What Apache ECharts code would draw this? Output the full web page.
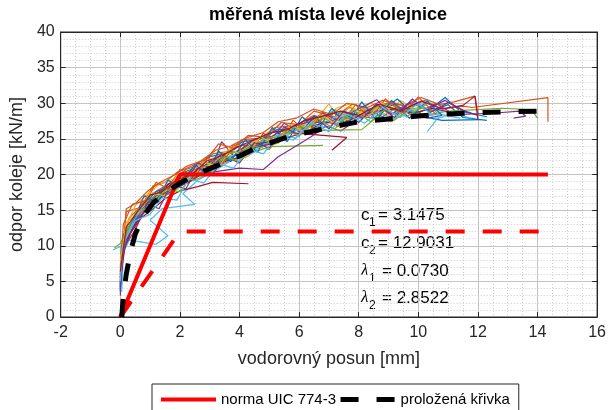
<!DOCTYPE html>
<html><head><meta charset="utf-8">
<script src="https://cdn.jsdelivr.net/npm/echarts@6/dist/echarts.min.js"></script>
<style>html,body{margin:0;padding:0;background:#fff}#c{width:609px;height:410px}</style>
</head><body><div id="c"></div>
<script>
// ---- data ----
const uicX = [0, 2, 14.35];
const uicY = [0, 20, 20];
const uicLowX = [0, 2, 14.35];
const uicLowY = [0, 12, 12];
const fitX = [0.05,0.1,0.2,0.35,0.5,0.75,1.1,1.5,2,2.5,3,3.5,4,4.5,5,5.5,6,6.5,7,7.5,8,8.5,9,9.5,10,11,12,13,14.35];
const fitY = [0,3,6,9.3,11.6,14,16,17.4,18.8,19.9,20.8,21.7,22.6,23.6,24.4,25.1,25.7,26.1,26.6,27,27.4,27.6,27.8,28,28.2,28.5,28.7,28.8,28.9];
const fitParams = [['c','1','3.1475'],['c','2','12.9031'],['\u03BB','1','0.0730'],['\u03BB','2','2.8522']];

const m01 = [[0,3.5],[0.02,8],[0.2,10.5],[0.45,12.8],[0.7,14.9],[1.0,15.6],[1.3,17.2],[1.7,18.1],[2.1,19.6],[2.6,20.3],[3.0,21.9],[3.5,22.4],[4.0,24.1],[4.6,24.0],[5.1,25.9],[5.7,26.2],[6.2,27.6],[6.9,27.1],[7.4,28.8],[8.0,28.2],[8.6,29.6],[9.2,28.4],[9.8,30.2],[10.4,28.9],[11.0,29.8],[11.5,28.0],[12.3,27.6]];
const m02 = [[0,5.2],[0.05,10.2],[0.3,13.9],[0.6,15.2],[0.9,16.8],[1.3,17.9],[1.8,19.1],[2.2,20.7],[2.7,21.4],[3.1,22.9],[3.6,23.2],[4.1,24.9],[4.7,25.1],[5.2,26.6],[5.9,26.9],[6.5,28.3],[7.0,27.6],[7.7,29.4],[8.3,28.6],[9.0,30.1],[9.6,29.0],[10.2,30.4],[10.8,29.2],[11.5,29.6],[11.8,29.4],[14.35,30.8],[14.35,27.4]];
const m03 = [[0,6.1],[0.1,11.0],[0.35,12.6],[0.6,14.1],[1.0,16.3],[1.4,17.1],[1.9,18.8],[2.4,19.4],[2.9,21.0],[3.4,21.8],[3.9,23.3],[4.5,23.5],[5.0,25.2],[5.6,25.6],[6.1,27.1],[6.6,27.9],[7.0,29.9],[7.4,27.4],[8.0,28.6],[8.4,30.1],[8.9,28.4],[9.4,30.4],[9.9,29.1],[10.5,29.5]];
const m04 = [[0,3.0],[0.05,7.9],[0.3,11.9],[0.6,13.6],[0.9,15.6],[1.3,16.4],[1.6,18.7],[2.1,19.3],[2.6,20.6],[3.1,21.2],[3.4,24.6],[3.8,22.6],[4.4,24.0],[5.0,24.6],[5.5,27.2],[6.0,26.0],[6.6,27.3],[7.1,28.7],[7.7,27.6],[8.2,29.4],[8.8,28.1],[9.4,29.8],[10.0,28.6],[10.6,30.0],[11.2,28.4],[12.5,28.6],[13.4,28.9],[13.6,28.2],[13.2,27.9]];
const m05 = [[-0.2,9.7],[0,10.3],[0.25,12.4],[0.55,13.8],[0.9,14.9],[1.3,16.6],[1.7,17.4],[2.2,18.8],[2.8,19.7],[3.3,21.3],[3.9,22.2],[4.4,23.0],[5.0,23.9],[6.8,24.1]];
const m06 = [[-0.25,9.4],[0,9.9],[0.05,3.5],[0.1,9.0],[0.3,10.8],[1.2,10.2],[1.6,11.4],[1.0,13.6],[1.4,15.2],[2.5,15.8],[2.1,17.3],[2.6,19.2],[3.2,20.6],[3.7,21.9],[4.3,22.6],[4.8,24.2],[5.4,24.8],[5.9,26.3],[6.5,26.0],[7.0,27.7],[7.6,26.9],[8.3,28.7],[8.9,27.9],[9.5,29.3],[10.1,28.1],[10.7,28.5],[11.4,27.9]];
const m07 = [[0,4.2],[0.08,9.0],[0.35,11.8],[0.7,13.9],[1.1,15.2],[1.5,16.6],[2.0,17.7],[2.6,18.3],[3.1,18.9],[4.3,18.7]];
const m08 = [[0,4.8],[0.1,9.5],[0.4,13.2],[0.8,15.9],[1.2,17.6],[1.6,18.2],[2.0,20.1],[2.5,20.9],[3.0,22.5],[3.6,23.0],[4.1,24.6],[4.7,25.0],[5.3,26.4],[5.8,26.1],[6.4,27.9],[7.0,28.4],[7.5,27.3],[8.1,29.1],[8.7,28.8],[9.3,30.6],[9.8,28.6],[10.4,29.2],[10.9,30.8],[11.4,28.9],[12.3,28.1]];
const m09 = [[0,7.2],[0.15,12.1],[0.2,14.8],[0.7,15.4],[1.1,18.4],[1.5,18.9],[1.9,20.3],[2.4,21.2],[2.9,22.2],[3.3,24.3],[3.8,23.7],[4.3,25.5],[4.9,25.2],[5.4,27.3],[6.0,27.0],[6.5,28.9],[7.2,28.1],[7.8,29.9],[8.5,29.0],[9.1,30.2],[9.6,29.5]];
const m10 = [[0,8.1],[0.2,12.8],[0.5,15.6],[0.9,17.2],[1.3,18.6],[1.8,19.4],[2.3,20.4],[2.8,21.8],[3.3,22.6],[3.8,23.9],[4.4,24.4],[5.0,26.0],[5.6,25.6],[6.2,27.2],[6.8,27.9],[7.3,29.4],[7.8,30.0],[8.2,28.8],[8.7,29.6],[9.2,27.6],[9.6,28.8]];
const m11 = [[0,5.5],[0.1,10.8],[0.4,13.4],[0.8,15.1],[1.2,16.2],[1.6,17.8],[2.1,18.6],[2.5,20.1],[3.2,20.4],[4.0,20.9],[4.8,20.7],[5.3,22.5],[5.9,24.0],[6.4,25.3],[6.9,26.8],[7.4,26.1],[8.0,27.9],[8.6,28.6],[9.2,29.9],[9.7,28.5],[10.3,27.9],[10.8,28.3]];
const m12 = [[0,6.6],[0.2,11.6],[0.5,13.7],[0.9,16.0],[1.3,17.3],[1.8,18.4],[2.3,19.8],[2.9,20.6],[3.4,22.3],[4.0,22.8],[4.6,24.5],[5.2,24.9],[5.8,26.4],[6.3,26.7],[6.8,26.2],[8.1,26.3],[8.6,28.0],[9.1,27.4],[9.7,29.1],[10.2,28.3],[11.0,28.9],[12.8,29.3],[13.8,29.1],[14.0,27.9]];
const m13 = [[0,5.9],[0.1,10.4],[0.4,12.9],[0.8,14.6],[1.2,16.9],[1.7,17.6],[2.2,19.0],[2.7,20.2],[3.2,21.1],[3.7,22.6],[4.2,23.1],[4.8,24.7],[5.3,25.6],[5.9,25.1],[6.4,26.9],[7.0,26.6],[7.5,28.4],[8.1,27.8],[8.7,29.7],[9.3,28.8],[9.9,28.9],[10.3,30.5],[10.7,28.2],[10.3,26.0]];
const m14 = [[0,5.0],[0.2,11.3],[0.6,14.3],[1.0,16.5],[1.5,18.2],[1.9,19.6],[2.4,20.5],[2.9,21.4],[3.4,22.8],[3.9,23.2],[4.4,24.2],[5.0,24.6],[5.6,25.9],[6.2,25.7],[7.6,25.2],[7.1,23.4]];
const m15 = [[0,4.0],[0.05,8.4],[0.3,12.2],[0.7,14.4],[1.1,15.9],[1.5,17.1],[2.0,18.4],[2.6,19.8],[3.1,21.6],[3.7,22.3],[4.3,23.8],[4.9,24.3],[5.5,25.7],[6.1,26.4],[6.7,27.1],[7.3,27.8],[7.9,28.3],[8.5,27.9],[9.0,29.4],[9.6,29.0],[10.2,28.1],[10.8,27.6],[12.1,27.7]];
const m16 = [[0,6.8],[0.15,12.5],[0.2,15.2],[0.5,15.9],[0.9,17.6],[1.3,18.8],[1.8,19.9],[2.2,21.1],[2.7,21.9],[3.2,23.4],[3.7,24.0],[4.2,25.1],[4.8,25.9],[5.3,27.4],[5.9,27.9],[6.5,29.2],[7.1,28.4],[7.6,30.0],[8.3,29.4],[8.8,30.4],[9.5,29.6],[10.1,30.8],[10.7,29.8],[11.2,30.2],[11.9,31.0],[12.0,28.6]];
const m17 = [[0,7.5],[0.25,11.9],[0.6,14.2],[1.0,15.7],[1.5,17.6],[2.0,18.6],[2.5,20.6],[3.0,21.3],[3.6,22.9],[4.1,23.4],[4.7,25.1],[5.3,25.4],[5.9,26.9],[6.5,26.5],[7.0,28.1],[7.7,27.7],[8.2,29.3],[8.8,28.9],[9.4,29.7]];
const m18 = [[0,4.6],[0.1,9.9],[0.4,12.9],[0.8,15.4],[1.2,17.0],[1.7,18.4],[2.2,19.2],[2.6,21.6],[3.0,21.0],[3.5,22.7],[4.0,23.4],[4.5,24.9],[5.1,25.4],[5.7,26.8],[6.3,27.3],[6.8,28.6],[7.3,27.6],[7.9,29.0],[8.6,30.5],[9.1,28.5],[9.7,30.0],[10.3,29.2],[10.9,30.4],[11.5,29.0],[12.0,28.3]];
const m19 = [[0,8.9],[0.2,11.4],[0.5,14.6],[0.9,16.2],[1.4,17.7],[1.9,19.0],[2.4,20.2],[3.0,21.5],[3.6,22.9],[4.2,23.5],[4.8,24.9],[5.4,25.4],[6.0,26.7],[6.6,27.4],[7.2,29.1],[7.7,27.9],[8.3,28.6],[8.8,30.1],[9.4,28.7],[10.0,29.4],[10.6,28.9]];
const m20 = [[0,6.3],[0.1,10.1],[0.5,14.0],[0.9,15.7],[1.4,17.2],[1.9,18.1],[2.4,19.6],[2.9,20.4],[3.5,21.9],[4.0,22.4],[4.6,23.9],[5.2,24.8],[5.8,26.2],[6.4,26.2],[7.0,27.5],[7.5,28.9],[8.1,28.2],[8.6,28.8],[9.2,27.8],[9.8,30.0],[10.4,29.1],[11.0,28.8],[11.8,27.9]];
const m21 = [[0,5.6],[0.15,10.6],[0.5,13.0],[0.9,15.3],[1.3,16.9],[1.8,18.1],[2.3,18.9],[2.9,20.5],[3.4,21.7],[4.0,22.4],[4.5,23.8],[5.1,24.3],[5.7,25.3],[6.3,26.0],[6.8,27.4],[7.4,27.0],[8.0,28.2],[8.6,28.9],[9.2,29.2],[9.8,28.6],[10.5,29.3],[11.1,28.7]];
const m22 = [[0,4.4],[0.1,11.5],[0.5,14.1],[0.8,17.0],[1.2,16.1],[1.6,19.2],[2.0,18.3],[2.5,21.4],[2.9,20.1],[3.3,23.3],[3.7,21.8],[4.2,24.9],[4.6,23.1],[5.1,26.6],[5.6,24.6],[6.1,28.1],[6.6,26.1],[7.1,29.3],[7.6,26.9],[8.1,30.2],[8.6,27.6],[9.1,30.4],[9.7,27.9],[10.3,30.3],[10.8,28.3]];
const m23 = [[0,6.0],[0.1,13.0],[0.4,15.8],[0.9,16.4],[1.2,18.9],[1.6,18.0],[2.0,20.7],[2.5,19.6],[2.9,22.4],[3.4,21.2],[3.8,24.2],[4.3,22.8],[4.8,25.8],[5.3,24.4],[5.8,27.6],[6.3,25.8],[6.8,28.8],[7.3,26.7],[7.9,29.8],[8.4,27.9],[8.9,30.6],[9.5,28.6],[10.0,30.9],[10.6,28.4]];
const m24 = [[0,7.8],[0.2,13.3],[0.6,14.6],[1.0,17.5],[1.5,17.0],[1.9,19.9],[2.4,19.3],[2.8,21.8],[3.3,21.0],[3.7,23.6],[4.2,22.3],[4.7,25.3],[5.2,24.2],[5.7,27.0],[6.2,25.9],[6.7,28.4],[7.2,27.2],[7.7,29.6],[8.3,28.1],[8.8,30.0],[9.3,28.0]];
const m25 = [[0,3.8],[0.1,9.7],[0.5,12.2],[0.9,15.9],[1.3,15.2],[1.7,18.6],[2.2,18.0],[2.6,20.9],[3.1,20.0],[3.5,22.6],[4.0,21.6],[4.5,24.5],[5.0,23.7],[5.5,26.7],[6.0,25.4],[6.5,28.2],[7.0,26.4],[7.5,28.9],[8.0,27.3],[8.6,29.9],[9.2,28.0],[9.8,30.6],[10.4,28.7],[11.0,30.1],[11.6,28.8]];
const m26 = [[0,7.0],[0.2,12.0],[0.6,15.2],[1.0,15.0],[1.5,17.9],[2.0,17.6],[2.5,20.3],[3.0,19.9],[3.5,22.5],[4.0,21.8],[4.5,24.0],[5.0,23.5],[5.5,26.1],[6.0,25.5],[6.6,27.9],[7.2,26.4],[7.8,29.1],[8.4,27.4],[9.0,29.6],[9.6,28.1],[10.3,29.9]];
const m27 = [[0,5.0],[0.1,10.3],[0.5,13.5],[1.0,14.4],[1.4,16.7],[1.9,16.4],[2.3,19.4],[2.8,18.8],[3.3,21.5],[3.8,20.9],[4.3,23.6],[4.8,22.9],[5.3,25.6],[5.8,24.8],[6.4,27.3],[7.0,26.0],[7.6,28.5],[8.2,27.2],[8.8,29.4],[9.4,28.0],[10.0,30.0],[10.6,27.8],[11.2,28.6]];
const m28 = [[0,6.4],[0.2,12.6],[0.6,14.9],[1.0,17.1],[1.4,17.6],[1.9,19.3],[2.4,20.0],[2.9,21.9],[3.4,22.6],[3.9,23.8],[4.4,24.7],[5.0,25.8],[5.6,26.3],[6.2,27.6],[6.8,28.2],[7.4,28.9],[8.0,28.3],[8.7,29.9],[9.4,28.9],[10.1,30.3],[10.8,29.2],[11.5,29.7],[11.9,31.0],[12.0,27.7]];
const measured = [m01,m02,m03,m04,m05,m06,m07,m08,m09,m10,m11,m12,m13,m14,m15,m16,m17,m18,m19,m20,m21,m22,m23,m24,m25,m26,m27,m28];
const palette = ['#0072BD','#D95319','#EDB120','#7E2F8E','#77AC30','#4DBEEE','#A2142F'];

// ---- chart ----
const FONT = '"Liberation Sans", Arial, sans-serif';
const TXT = '#262626';
const zip = (a, b) => a.map((v, i) => [v, b[i]]);
const chart = echarts.init(document.getElementById('c'), null, {renderer: 'canvas'});

const series = measured.map((d, i) => ({
  name: 'mereni ' + (i + 1), type: 'line', data: d, symbol: 'none', silent: true, z: 2,
  lineStyle: {width: 1.2, color: palette[i % palette.length]}, itemStyle: {color: palette[i % palette.length]}
}));
series.push({name: 'norma UIC 774-3', type: 'line', data: zip(uicX, uicY), symbol: 'none', z: 3,
  lineStyle: {width: 4, color: '#ff0000'}, itemStyle: {color: '#ff0000'}});
series.push({name: 'norma UIC 774-3 snizena', type: 'line', data: zip(uicLowX, uicLowY), symbol: 'none', z: 3,
  lineStyle: {width: 4, color: '#ff0000', type: [19, 18]}, itemStyle: {color: '#ff0000'}});
series.push({name: 'proložená křivka', type: 'line', data: zip(fitX, fitY), symbol: 'none', z: 4,
  lineStyle: {width: 5, color: '#000000', type: [18, 18]}, itemStyle: {color: '#000000'}});

const axisCommon = {
  axisLine: {show: true, onZero: false, lineStyle: {color: TXT, width: 1}},
  axisTick: {show: true, inside: true, length: 5, lineStyle: {color: TXT}},
};

const graphic = [];
fitParams.forEach((p, i) => {
  const y = [215, 243, 271, 298][i];
  const isL = p[0] !== 'c';
  graphic.push({type: 'text', x: 361, y: y, style: {text: p[0], fill: '#000', verticalAlign: 'middle',
    font: isL ? 'italic 17px "Liberation Serif", serif' : '17px ' + FONT}});
  graphic.push({type: 'text', x: 369, y: y + 8, style: {text: p[1], fill: '#000', verticalAlign: 'middle', font: '12px ' + FONT}});
  graphic.push({type: 'text', x: isL ? 382 : 378, y: y, style: {text: '= ' + p[2], fill: '#000', verticalAlign: 'middle', font: '17px ' + FONT}});
});

chart.setOption({
  animation: false,
  backgroundColor: '#ffffff',
  title: {text: 'měřená místa levé kolejnice', left: 328, top: 6, padding: 0, textAlign: 'center',
    textStyle: {fontFamily: FONT, fontSize: 18, fontWeight: 'bold', color: '#000'}},
  grid: {left: 57, right: 11, top: 32, bottom: 93, show: true, borderColor: TXT, borderWidth: 1, backgroundColor: 'transparent'},
  legend: {data: [
      {name: 'norma UIC 774-3', lineStyle: {width: 4, color: '#ff0000'}},
      {name: 'proložená křivka', lineStyle: {width: 5, color: '#000000', type: [18, 18]}}
    ], left: 152, top: 384, itemWidth: 55, itemHeight: 10, itemGap: 2,
    padding: [8, 9, 8, 7], borderColor: TXT, borderWidth: 1, backgroundColor: '#fff',
    itemStyle: {color: 'rgba(0,0,0,0)', borderColor: 'rgba(0,0,0,0)', borderWidth: 0},
    textStyle: {fontFamily: FONT, fontSize: 15, color: '#000'}},
  xAxis: [
    Object.assign({type: 'value', min: -2, max: 16, interval: 2, position: 'bottom',
      name: 'vodorovný posun [mm]', nameLocation: 'middle', nameGap: 33,
      nameTextStyle: {fontFamily: FONT, fontSize: 18, color: TXT},
      axisLabel: {fontFamily: FONT, fontSize: 16, color: TXT, margin: 8},
      splitLine: {show: true, lineStyle: {color: '#c4c4c4', width: 1}},
      minorTick: {show: false, splitNumber: 4},
      minorSplitLine: {show: true, lineStyle: {color: '#cccccc', width: 1, type: [1, 2]}}}, axisCommon),
    Object.assign({type: 'value', min: -2, max: 16, interval: 2, position: 'top',
      axisLabel: {show: false}, splitLine: {show: false}}, axisCommon)
  ],
  yAxis: [
    Object.assign({type: 'value', min: 0, max: 40, interval: 5, position: 'left',
      name: 'odpor koleje [kN/m]', nameLocation: 'middle', nameGap: 31,
      nameTextStyle: {fontFamily: FONT, fontSize: 18, color: TXT},
      axisLabel: {fontFamily: FONT, fontSize: 16, color: TXT, margin: 6},
      splitLine: {show: true, lineStyle: {color: '#c4c4c4', width: 1}},
      minorTick: {show: false, splitNumber: 5},
      minorSplitLine: {show: true, lineStyle: {color: '#cccccc', width: 1, type: [1, 2]}}}, axisCommon),
    Object.assign({type: 'value', min: 0, max: 40, interval: 5, position: 'right',
      axisLabel: {show: false}, splitLine: {show: false}}, axisCommon)
  ],
  series: series,
  graphic: graphic
});
</script></body></html>
